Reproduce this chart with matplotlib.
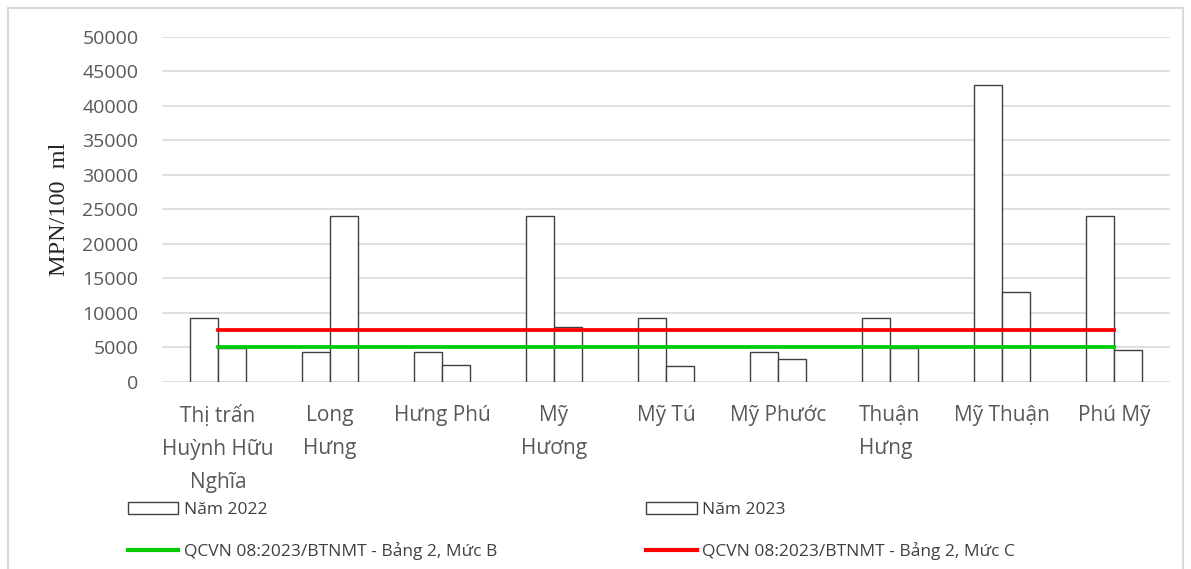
import numpy as np
import matplotlib.pyplot as plt
from matplotlib.patches import Patch, Rectangle
from matplotlib.lines import Line2D

plt.rcParams['font.family'] = ['Open Sans', 'DejaVu Sans']

categories = ["Thị trấn\nHuỳnh Hữu\nNghĩa", "Long\nHưng", "Hưng Phú", "Mỹ\nHương",
              "Mỹ Tú", "Mỹ Phước", "Thuận\nHưng", "Mỹ Thuận", "Phú Mỹ"]
nam_2022 = [9300, 4300, 4300, 24000, 9300, 4300, 9300, 43000, 24000]
nam_2023 = [4900, 24000, 2400, 7900, 2300, 3300, 4900, 13000, 4600]
muc_b = [5000] * 9
muc_c = [7500] * 9

x = np.arange(len(categories))
w = 0.25

fig = plt.figure(figsize=(11.91, 5.69), dpi=100)
ax = fig.add_axes([162 / 1191, 1 - 381.7 / 569, (1170 - 162) / 1191, (381.7 - 36.7) / 569])

ax.bar(x - w / 2, nam_2022, w, color='white', edgecolor='#404040', linewidth=1, zorder=2)
ax.bar(x + w / 2, nam_2023, w, color='white', edgecolor='#404040', linewidth=1, zorder=2)
ax.plot(x, muc_b, color='#00cc00', linewidth=2.7, zorder=3)
ax.plot(x, muc_c, color='#ff0000', linewidth=2.7, zorder=3)

ax.set_xlim(-0.5, len(categories) - 0.5)
ax.set_ylim(0, 50000)
ax.set_yticks(np.arange(0, 50001, 5000))
ax.yaxis.grid(True, color='#d9d9d9', linewidth=1.2, zorder=0)
ax.set_axisbelow(True)
for s in ax.spines.values():
    s.set_visible(False)
ax.tick_params(axis='both', length=0, colors='#595959')
ax.tick_params(axis='y', pad=17, labelsize=14)
ax.tick_params(axis='x', pad=17, labelsize=15)
ax.set_xticks(x)
ax.set_xticklabels(categories, linespacing=1.75)
ax.get_xticklabels()[6].set_multialignment('left')

ax.set_ylabel('MPN/100  ml', family='Liberation Serif', fontsize=17.5, color='#262626', labelpad=9)

handles = [Patch(facecolor='white', edgecolor='#404040', label='Năm 2022'),
           Line2D([], [], color='#00cc00', linewidth=3, label='QCVN 08:2023/BTNMT - Bảng 2, Mức B'),
           Patch(facecolor='white', edgecolor='#404040', label='Năm 2023'),
           Line2D([], [], color='#ff0000', linewidth=3, label='QCVN 08:2023/BTNMT - Bảng 2, Mức C')]
leg = fig.legend(handles=handles, ncol=2, loc='upper left', bbox_to_anchor=(128 / 1191, 1 - 502 / 569),
                 frameon=False, fontsize=12.5, handlelength=2.9, handletextpad=0.3,
                 borderpad=0, borderaxespad=0, columnspacing=8.6, labelspacing=1.4,
                 labelcolor='#404040')

fig.patches.append(Rectangle((8 / 1191, -0.01), 1 - 16 / 1191, 1.01 - 8 / 569, transform=fig.transFigure,
                             fill=False, edgecolor='#d9d9d9', linewidth=1.5))

fig.savefig('out.png', dpi=100)
